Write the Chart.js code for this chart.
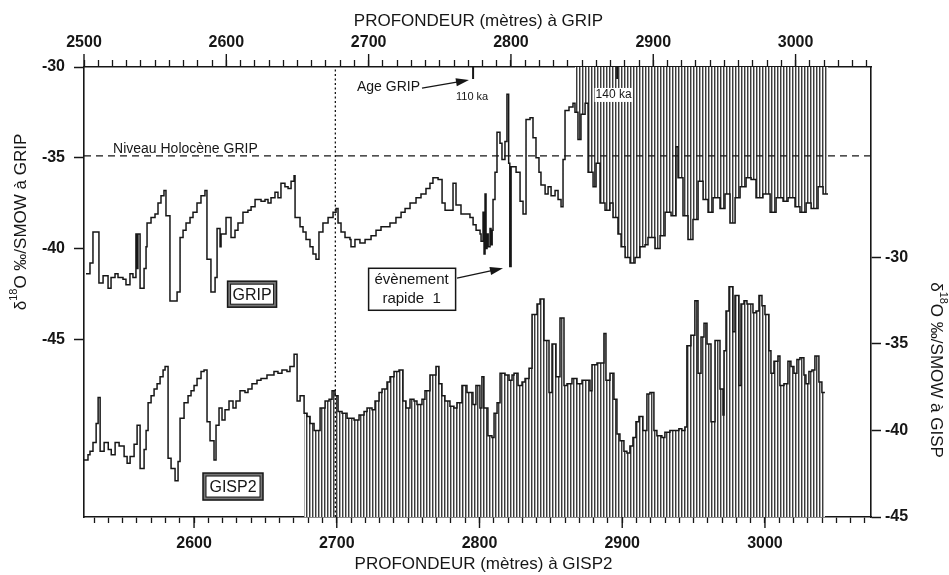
<!DOCTYPE html>
<html lang="fr">
<head>
<meta charset="utf-8">
<title>δ18O GRIP / GISP2</title>
<script src="https://cdn.jsdelivr.net/npm/chart.js@4.4.1/dist/chart.umd.min.js"></script>
<style>
  html, body { margin: 0; padding: 0; background: #fff; }
  #wrap { width: 949px; height: 575px; }
</style>
</head>
<body>
<div id="wrap"><canvas id="chart" width="949" height="575"></canvas></div>
<script>
// GRIP : profondeur (m) et delta 18O (permil / SMOW)
const gripDepth = [
  2501.4, 2504.2, 2506.3, 2510.5, 2513.4, 2516.9, 2519.0, 2521.8, 2523.9, 2527.4,
  2529.5, 2532.3, 2534.4, 2536.5, 2537.2, 2537.9, 2539.4, 2542.2, 2543.6, 2544.3,
  2547.1, 2549.9, 2552.0, 2554.1, 2556.2, 2557.6, 2560.4, 2565.4, 2567.5, 2569.6,
  2571.7, 2574.5, 2576.6, 2579.4, 2582.2, 2585.0, 2586.4, 2589.2, 2592.1, 2593.5,
  2595.6, 2596.3, 2599.8, 2603.3, 2606.1, 2608.2, 2611.7, 2615.2, 2617.4, 2620.2,
  2624.4, 2627.2, 2629.3, 2631.4, 2634.2, 2636.3, 2638.4, 2641.2, 2643.4, 2645.5,
  2647.6, 2648.3, 2651.8, 2653.9, 2656.0, 2658.8, 2660.9, 2663.0, 2665.1, 2667.9,
  2671.5, 2675.0, 2677.1, 2678.5, 2680.6, 2683.4, 2686.9, 2687.6, 2690.4, 2693.9,
  2697.5, 2701.7, 2705.2, 2708.7, 2715.0, 2719.2, 2722.8, 2725.6, 2729.1, 2733.3,
  2736.8, 2740.3, 2743.1, 2745.2, 2748.8, 2751.6, 2753.7, 2759.3, 2761.4, 2764.9,
  2771.2, 2773.4, 2775.5, 2778.3, 2779.0, 2780.4, 2781.1, 2781.8, 2782.5, 2783.2,
  2784.0, 2785.3, 2786.0, 2786.8, 2787.4, 2788.8, 2790.2, 2792.3, 2793.7, 2795.8,
  2797.2, 2798.4, 2799.2, 2800.1, 2803.6, 2806.4, 2808.5, 2810.6, 2813.4, 2815.5,
  2817.6, 2819.7, 2821.1, 2824.0, 2826.1, 2828.2, 2831.0, 2833.1, 2835.2, 2836.6,
  2838.0, 2840.8, 2843.6, 2845.0, 2847.1, 2849.2, 2852.1, 2854.2, 2857.7, 2859.8,
  2862.6, 2866.1, 2869.6, 2871.7, 2875.2, 2877.4, 2880.2, 2883.7, 2887.2, 2890.7,
  2894.2, 2896.3, 2901.2, 2904.8, 2908.3, 2912.5, 2916.0, 2917.4, 2920.9, 2924.4,
  2927.9, 2931.5, 2935.0, 2938.5, 2942.0, 2946.9, 2950.4, 2953.9, 2957.5, 2961.0,
  2965.2, 2968.7, 2972.2, 2977.1, 2982.1, 2986.3, 2991.2, 2994.7, 2999.6, 3003.1,
  3007.4, 3010.9, 3015.8, 3019.3, 3022.8
];
const gripO18 = [
  -41.4, -40.8, -39.1, -41.9, -41.5, -42.2, -41.6, -41.4, -41.6, -41.7,
  -42.0, -41.4, -41.6, -39.2, -41.1, -39.2, -42.2, -41.1, -39.9, -38.6,
  -38.3, -38.1, -37.5, -37.1, -36.8, -38.2, -42.9, -42.4, -39.4, -39.0,
  -38.6, -38.3, -38.0, -37.5, -37.1, -36.8, -40.6, -42.4, -41.6, -38.9,
  -39.9, -39.2, -38.3, -39.4, -39.0, -38.6, -38.0, -37.9, -37.7, -37.3,
  -37.4, -37.3, -37.5, -37.2, -36.9, -37.2, -36.4, -36.6, -36.7, -36.3,
  -36.0, -38.3, -38.8, -39.1, -39.5, -39.9, -40.3, -40.6, -39.1, -38.6,
  -38.3, -38.0, -37.8, -38.6, -39.1, -39.4, -39.5, -39.9, -39.5, -39.7,
  -39.5, -39.3, -39.0, -38.8, -38.6, -38.3, -38.0, -37.8, -37.5, -37.2,
  -37.0, -36.7, -36.4, -36.1, -36.2, -37.5, -37.9, -36.4, -37.6, -38.1,
  -38.3, -38.7, -39.0, -39.2, -39.6, -38.0, -40.3, -37.0, -40.0, -39.2,
  -39.9, -38.9, -39.8, -39.0, -37.3, -35.8, -33.6, -34.2, -35.1, -34.1,
  -31.5, -35.3, -41.0, -35.5, -35.8, -37.4, -38.1, -32.9, -32.8, -33.9,
  -35.0, -35.8, -36.5, -37.0, -36.6, -37.1, -36.8, -37.3, -37.7, -35.1,
  -32.4, -32.2, -32.0, -32.5, -34.0, -32.6, -32.0, -35.8, -36.6, -35.3,
  -37.5, -37.9, -37.5, -38.3, -39.2, -39.9, -40.5, -40.8, -40.5, -39.9,
  -39.8, -39.4, -40.0, -39.3, -38.0, -38.2, -34.4, -36.1, -38.2, -39.5,
  -38.4, -36.3, -37.3, -38.0, -37.2, -37.8, -37.0, -38.6, -37.2, -36.6,
  -36.1, -36.2, -37.2, -37.0, -38.0, -37.2, -37.4, -37.2, -37.7, -38.0,
  -37.5, -37.8, -36.6, -37.0, -37.0
];

// GISP2 : profondeur (m) et delta 18O (permil / SMOW)
const gispDepth = [
  2522.9, 2525.7, 2527.1, 2529.2, 2531.4, 2532.8, 2534.2, 2537.0, 2539.9, 2542.0,
  2544.7, 2547.5, 2551.0, 2553.1, 2555.2, 2558.0, 2560.1, 2562.2, 2565.0, 2566.4,
  2567.8, 2569.9, 2572.0, 2574.1, 2576.2, 2578.3, 2579.7, 2581.8, 2583.9, 2586.7,
  2588.8, 2590.2, 2593.0, 2595.8, 2597.9, 2600.0, 2602.1, 2604.9, 2607.0, 2609.1,
  2611.2, 2614.0, 2615.4, 2617.5, 2619.6, 2621.7, 2624.5, 2627.3, 2629.4, 2632.2,
  2635.7, 2637.8, 2640.6, 2644.1, 2646.9, 2651.1, 2656.0, 2658.8, 2661.6, 2665.1,
  2667.2, 2670.1, 2672.2, 2674.3, 2677.1, 2679.2, 2681.3, 2684.1, 2686.9, 2688.3,
  2691.8, 2694.6, 2696.7, 2698.8, 2700.9, 2703.7, 2707.2, 2712.1, 2715.6, 2719.1,
  2721.2, 2724.7, 2726.8, 2729.6, 2731.7, 2735.2, 2737.3, 2740.1, 2743.6, 2746.4,
  2748.5, 2751.3, 2754.1, 2756.2, 2759.7, 2761.8, 2765.3, 2769.5, 2771.6, 2773.7,
  2775.8, 2779.3, 2782.1, 2784.2, 2787.7, 2791.2, 2795.4, 2797.5, 2800.3, 2801.7,
  2803.1, 2805.9, 2808.7, 2810.2, 2812.3, 2814.4, 2817.9, 2820.7, 2822.8, 2824.2,
  2827.0, 2829.8, 2831.9, 2834.7, 2836.8, 2840.3, 2842.4, 2845.2, 2848.7, 2850.8,
  2853.6, 2856.4, 2859.2, 2861.3, 2864.8, 2868.3, 2871.8, 2874.6, 2877.4, 2878.8,
  2882.3, 2887.2, 2888.6, 2891.4, 2894.2, 2896.3, 2898.4, 2901.2, 2903.3, 2905.4,
  2907.5, 2909.6, 2911.7, 2914.5, 2917.3, 2919.4, 2922.2, 2924.3, 2927.8, 2929.9,
  2933.4, 2936.2, 2939.7, 2941.8, 2943.9, 2945.3, 2948.1, 2950.9, 2953.1, 2955.2,
  2957.3, 2959.4, 2962.2, 2965.0, 2968.5, 2970.6, 2971.3, 2972.7, 2974.8, 2977.6,
  2979.0, 2981.8, 2983.2, 2985.3, 2987.4, 2991.6, 2993.7, 2995.8, 2997.9, 3000.0,
  3002.8, 3004.2, 3006.3, 3009.1, 3010.5, 3013.3, 3016.1, 3018.2, 3020.3, 3022.4,
  3024.5, 3027.3, 3028.7, 3030.8, 3032.9, 3035.0, 3037.8, 3039.9, 3042.0
];
const gispO18 = [
  -41.7, -41.4, -41.2, -40.7, -39.6, -38.1, -41.2, -40.7, -41.1, -41.4,
  -40.7, -40.9, -41.5, -41.9, -41.5, -40.8, -39.7, -42.2, -41.1, -40.0,
  -38.4, -38.0, -37.6, -37.3, -36.9, -36.5, -36.3, -41.6, -42.2, -42.9,
  -41.8, -39.3, -38.4, -38.0, -37.7, -37.4, -37.0, -36.6, -36.5, -39.5,
  -40.6, -41.7, -39.7, -38.7, -39.4, -38.8, -38.3, -38.7, -38.3, -37.7,
  -37.8, -37.6, -37.3, -37.1, -37.0, -36.8, -36.6, -36.7, -36.5, -36.6,
  -36.3, -35.6, -38.3, -38.0, -39.0, -39.2, -39.6, -40.0, -40.0, -38.7,
  -38.3, -38.2, -37.7, -38.0, -38.9, -39.0, -39.3, -39.4, -39.1, -38.9,
  -38.7, -38.8, -38.3, -37.8, -37.6, -37.2, -36.9, -36.6, -36.5, -38.3,
  -38.7, -38.2, -38.3, -38.5, -38.2, -37.7, -36.8, -36.3, -37.3, -38.0,
  -38.3, -38.6, -38.7, -38.4, -37.4, -37.8, -38.5, -37.4, -38.7, -36.9,
  -38.7, -40.3, -40.4, -39.0, -38.4, -36.7, -36.8, -37.1, -36.8, -36.7,
  -37.4, -37.2, -37.0, -36.4, -33.3, -32.7, -32.4, -34.8, -37.8, -35.0,
  -36.9, -33.5, -37.4, -37.3, -37.0, -37.3, -37.1, -37.1, -37.7, -36.2,
  -36.1, -34.4, -37.1, -36.7, -38.2, -40.2, -40.6, -41.2, -41.3, -40.9,
  -40.4, -39.5, -39.2, -40.0, -37.9, -37.8, -40.0, -40.3, -40.4, -40.1,
  -40.0, -40.0, -39.9, -40.0, -39.8, -35.1, -34.5, -32.5, -36.7, -34.6,
  -33.8, -35.0, -39.5, -34.8, -37.6, -39.1, -35.4, -33.1, -31.7, -34.3,
  -32.2, -37.4, -32.7, -32.5, -32.7, -33.2, -33.1, -32.2, -32.8, -33.3,
  -35.4, -36.7, -36.0, -35.7, -37.4, -37.3, -36.0, -36.3, -36.7, -35.9,
  -35.8, -36.8, -37.3, -36.6, -36.5, -35.7, -37.2, -37.8, -37.8
];

// parties hachurées des deux enregistrements (profondeur de début)
const gripHatchFrom = 2845.0;
const gispHatchFrom = 2677.1;

// niveau holocène GRIP, ligne de corrélation (profondeur GISP2)
const holoceneLevel = -34.9;
const tieDepthGisp = 2699;

// axes
const gripDepthRange = [2500, 3053];
const gispDepthRange = [2522.9, 3074.3];
const gripO18Range = [-54.8, -30];
const gispO18Range = [-45, -19];
const gripTicks = [-30, -35, -40, -45];
const gispTicks = [-30, -35, -40, -45];

const ink = "#161616";
const family = "'Liberation Sans', Arial, Helvetica, sans-serif";

const canvas = document.getElementById("chart");
const ctx0 = canvas.getContext("2d");

// motif de hachures verticales
function makeHatch() {
    const c = document.createElement("canvas");
    c.width = 3;
    c.height = 4;
    const g = c.getContext("2d");
    g.fillStyle = "#ffffff";
    g.fillRect(0, 0, 3, 4);
    g.fillStyle = "#3c3c3c";
    g.fillRect(0, 0, 1, 4);
    g.fillStyle = "#a8a8a8";
    g.fillRect(1, 0, 1, 4);
    return ctx0.createPattern(c, "repeat");
}
const hatch = makeHatch();

const toPoints = (xs, ys) => xs.map((x, i) => ({ x: x, y: ys[i] }));
const gripPts = toPoints(gripDepth, gripO18);
const gispPts = toPoints(gispDepth, gispO18);

const tickFont = { family: family, size: 16, weight: "bold" };

function depthTicks(v) {
    const r = Math.round(v);
    return r % 100 === 0 ? String(r) : "";
}

// annotations (placées dans les unités des axes)
const notes = {
    holocene: { text: "Niveau Holocène GRIP", depth: 2520.4, o18: -34.52 },
    age: { text: "Age GRIP", depth: 2691.8, o18: -31.1 },
    ageArrow: { from: [2737.5, -31.16], to: [2770.5, -30.72] },
    ka110: { text: "110 ka", depth: 2772.7, o18: -31.65, mark: 2773.4 },
    ka140: { text: "140 ka", depth: 2872.1, o18: -31.54, mark: 2874.6 },
    event: { lines: ["évènement", "rapide  1"], depth: 2730.2, o18: -42.25 },
    eventArrow: { from: [2762.1, -41.64], to: [2794.4, -41.09] },
    gripBox: { text: "GRIP", depth: 2618.1, o18: -42.52 },
    gispBox: { text: "GISP2", depth: 2627.3, o18: -43.24 }
};

function arrow(ctx, x1, y1, x2, y2) {
    const a = Math.atan2(y2 - y1, x2 - x1);
    ctx.beginPath();
    ctx.moveTo(x1, y1);
    ctx.lineTo(x2 - 8 * Math.cos(a), y2 - 8 * Math.sin(a));
    ctx.stroke();
    ctx.beginPath();
    ctx.moveTo(x2, y2);
    ctx.lineTo(x2 - 13 * Math.cos(a) + 4 * Math.sin(a), y2 - 13 * Math.sin(a) - 4 * Math.cos(a));
    ctx.lineTo(x2 - 13 * Math.cos(a) - 4 * Math.sin(a), y2 - 13 * Math.sin(a) + 4 * Math.cos(a));
    ctx.closePath();
    ctx.fill();
}

function framedLabel(ctx, cx, cy, w, h, text) {
    ctx.fillStyle = "#777";
    ctx.fillRect(cx - w / 2, cy - h / 2, w, h);
    ctx.fillStyle = "#fff";
    ctx.fillRect(cx - w / 2 + 3, cy - h / 2 + 3, w - 6, h - 6);
    ctx.lineWidth = 1.5;
    ctx.strokeRect(cx - w / 2, cy - h / 2, w, h);
    ctx.lineWidth = 1;
    ctx.strokeRect(cx - w / 2 + 3, cy - h / 2 + 3, w - 6, h - 6);
    ctx.fillStyle = ink;
    ctx.font = "16px " + family;
    ctx.textAlign = "center";
    ctx.textBaseline = "middle";
    ctx.fillText(text, cx, cy + 1);
}

// titre d'axe avec exposant 18
function deltaTitle(ctx, x, y, angle, suffix) {
    const parts = [
        { t: "δ", f: "17px " + family, dy: 0 },
        { t: "18", f: "11px " + family, dy: -7 },
        { t: "O ‰/SMOW à " + suffix, f: "17px " + family, dy: 0 }
    ];
    ctx.save();
    ctx.translate(x, y);
    ctx.rotate(angle);
    let w = 0;
    parts.forEach(p => { ctx.font = p.f; p.w = ctx.measureText(p.t).width; w += p.w; });
    let cx = -w / 2;
    ctx.textAlign = "left";
    ctx.textBaseline = "middle";
    ctx.fillStyle = ink;
    parts.forEach(p => { ctx.font = p.f; ctx.fillText(p.t, cx, p.dy); cx += p.w; });
    ctx.restore();
}

const decorations = {
    id: "decorations",
    afterDraw(chart) {
        const ctx = chart.ctx;
        const area = chart.chartArea;
        const xt = chart.scales.xTop, yl = chart.scales.yLeft;
        const xb = chart.scales.xBottom, yr = chart.scales.yRight;
        const px = (s, v) => s.getPixelForValue(v);
        ctx.save();
        ctx.strokeStyle = ink;
        ctx.fillStyle = ink;

        // graduations majeures plus longues
        ctx.lineWidth = 1.4;
        xt.ticks.forEach(t => {
            if (Math.round(t.value) % 100 === 0) {
                const x = px(xt, t.value);
                ctx.beginPath(); ctx.moveTo(x, area.top - 13); ctx.lineTo(x, area.top); ctx.stroke();
            }
        });
        xb.ticks.forEach(t => {
            if (Math.round(t.value) % 100 === 0) {
                const x = px(xb, t.value);
                ctx.beginPath(); ctx.moveTo(x, area.bottom); ctx.lineTo(x, area.bottom + 11); ctx.stroke();
            }
        });

        // titres
        ctx.font = "17px " + family;
        ctx.textAlign = "center";
        ctx.textBaseline = "middle";
        ctx.fillText("PROFONDEUR (mètres) à GRIP", (area.left + area.right) / 2 + 1, 21);
        ctx.fillText("PROFONDEUR (mètres) à GISP2", (area.left + area.right) / 2 + 6, 564);
        deltaTitle(ctx, 21, 222, -Math.PI / 2, "GRIP");
        deltaTitle(ctx, 936, 370, Math.PI / 2, "GISP");

        // niveau holocène
        let n = notes.holocene;
        ctx.font = "14px " + family;
        ctx.textAlign = "left";
        ctx.fillText(n.text, px(xt, n.depth), px(yl, n.o18));

        // age GRIP
        n = notes.age;
        ctx.font = "14px " + family;
        ctx.fillText(n.text, px(xt, n.depth), px(yl, n.o18));
        ctx.lineWidth = 1.3;
        n = notes.ageArrow;
        arrow(ctx, px(xt, n.from[0]), px(yl, n.from[1]), px(xt, n.to[0]), px(yl, n.to[1]));

        n = notes.ka110;
        ctx.lineWidth = 2;
        ctx.beginPath();
        ctx.moveTo(px(xt, n.mark), area.top);
        ctx.lineTo(px(xt, n.mark), area.top + 12);
        ctx.stroke();
        ctx.font = "11px " + family;
        ctx.textAlign = "center";
        ctx.fillText(n.text, px(xt, n.depth), px(yl, n.o18));

        n = notes.ka140;
        ctx.beginPath();
        ctx.moveTo(px(xt, n.mark), area.top);
        ctx.lineTo(px(xt, n.mark), area.top + 12);
        ctx.stroke();
        const kx = px(xt, n.depth), ky = px(yl, n.o18);
        ctx.fillStyle = "#fff";
        ctx.fillRect(kx - 19, ky - 7, 38, 14);
        ctx.fillStyle = ink;
        ctx.font = "12px " + family;
        ctx.fillText(n.text, kx, ky);

        // évènement rapide 1
        n = notes.event;
        const ex = px(xt, n.depth), ey = px(yl, n.o18);
        ctx.fillStyle = "#fff";
        ctx.fillRect(ex - 43, ey - 21, 87, 42);
        ctx.lineWidth = 1.5;
        ctx.strokeRect(ex - 43, ey - 21, 87, 42);
        ctx.fillStyle = ink;
        ctx.font = "15px " + family;
        ctx.fillText(n.lines[0], ex, ey - 9);
        ctx.fillText(n.lines[1], ex, ey + 10);
        ctx.lineWidth = 1.3;
        n = notes.eventArrow;
        arrow(ctx, px(xt, n.from[0]), px(yl, n.from[1]), px(xt, n.to[0]), px(yl, n.to[1]));

        // étiquettes encadrées
        n = notes.gripBox;
        framedLabel(ctx, px(xt, n.depth), px(yl, n.o18), 49, 26, n.text);
        n = notes.gispBox;
        framedLabel(ctx, px(xb, n.depth), px(yr, n.o18), 60, 27, n.text);

        ctx.restore();
    }
};

new Chart(canvas, {
    type: "line",
    data: {
        datasets: [
            {
                data: gripPts.filter(p => p.x >= gripHatchFrom),
                xAxisID: "xTop", yAxisID: "yLeft",
                stepped: true, fill: "end", backgroundColor: hatch,
                borderWidth: 0, pointRadius: 0, order: 5
            },
            {
                data: gispPts.filter(p => p.x >= gispHatchFrom),
                xAxisID: "xBottom", yAxisID: "yRight",
                stepped: true, fill: "start", backgroundColor: hatch,
                borderWidth: 0, pointRadius: 0, order: 5
            },
            {
                data: [{ x: gripDepthRange[0], y: holoceneLevel }, { x: gripDepthRange[1], y: holoceneLevel }],
                xAxisID: "xTop", yAxisID: "yLeft",
                borderColor: ink, borderWidth: 1.4, borderDash: [7, 5],
                pointRadius: 0, fill: false, order: 2
            },
            {
                data: [{ x: tieDepthGisp, y: gispO18Range[0] }, { x: tieDepthGisp, y: gispO18Range[1] }],
                xAxisID: "xBottom", yAxisID: "yRight",
                borderColor: ink, borderWidth: 1.3, borderDash: [2, 2.5],
                pointRadius: 0, fill: false, order: 2
            },
            {
                data: gripPts,
                xAxisID: "xTop", yAxisID: "yLeft",
                stepped: true, fill: false, borderColor: ink, borderWidth: 1.5,
                pointRadius: 0, order: 1
            },
            {
                data: gispPts,
                xAxisID: "xBottom", yAxisID: "yRight",
                stepped: true, fill: false, borderColor: ink, borderWidth: 1.5,
                pointRadius: 0, order: 1
            }
        ]
    },
    options: {
        responsive: false,
        animation: false,
        events: [],
        layout: { padding: 0 },
        plugins: {
            legend: { display: false },
            tooltip: { enabled: false },
            title: { display: false }
        },
        scales: {
            xTop: {
                type: "linear", position: "top",
                min: gripDepthRange[0], max: gripDepthRange[1],
                grid: { drawOnChartArea: false, tickLength: 7, tickColor: ink, tickWidth: 1.3 },
                border: { display: true, color: ink, width: 1.6 },
                ticks: {
                    stepSize: 10, autoSkip: false, maxRotation: 0, includeBounds: false,
                    padding: 8, color: ink, font: tickFont, callback: depthTicks
                },
                afterFit: s => { s.height = 67; }
            },
            xBottom: {
                type: "linear", position: "bottom",
                min: gispDepthRange[0], max: gispDepthRange[1],
                grid: { drawOnChartArea: false, tickLength: 6, tickColor: ink, tickWidth: 1.3 },
                border: { display: true, color: ink, width: 1.6 },
                ticks: {
                    stepSize: 10, autoSkip: false, maxRotation: 0, includeBounds: false,
                    padding: 11, color: ink, font: tickFont, callback: depthTicks
                },
                afterFit: s => { s.height = 58; }
            },
            yLeft: {
                type: "linear", position: "left",
                min: gripO18Range[0], max: gripO18Range[1],
                grid: { drawOnChartArea: false, tickLength: 10, tickColor: ink, tickWidth: 1.5 },
                border: { display: true, color: ink, width: 1.6 },
                ticks: { padding: 9, color: ink, font: tickFont, callback: v => String(v) },
                afterBuildTicks: s => { s.ticks = gripTicks.map(v => ({ value: v })); },
                afterFit: s => { s.width = 84; }
            },
            yRight: {
                type: "linear", position: "right",
                min: gispO18Range[0], max: gispO18Range[1],
                grid: { drawOnChartArea: false, tickLength: 10, tickColor: ink, tickWidth: 1.5 },
                border: { display: true, color: ink, width: 1.6 },
                ticks: { padding: 4, color: ink, font: tickFont, callback: v => String(v) },
                afterBuildTicks: s => { s.ticks = gispTicks.map(v => ({ value: v })); },
                afterFit: s => { s.width = 78; }
            }
        }
    },
    plugins: [decorations]
});
</script>
</body>
</html>
